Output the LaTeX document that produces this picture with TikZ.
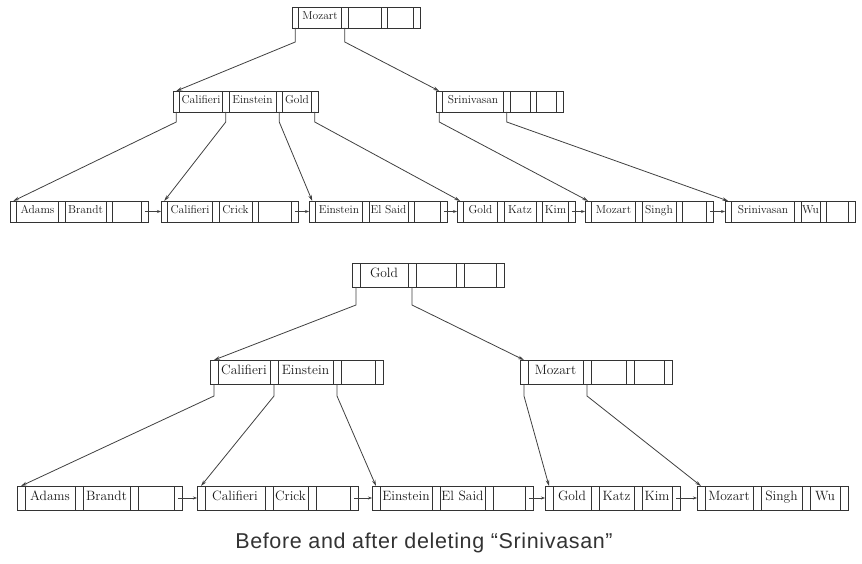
\documentclass[tikz,border=0pt]{standalone}
\usepackage{fontspec}
\setsansfont{Liberation Sans}
\newfontfamily\capfont[LetterSpace=3]{Liberation Sans}
\usetikzlibrary{positioning}
\usetikzlibrary{arrows.meta}

% one B+-tree node: pointer cell, then key cell and pointer cell per key/width
\newcommand{\bpnode}[4][]{%
  \node[ptr,#1,anchor=north west] (#2-p0) at (#3) {};
  \foreach \k/\w [count=\i] in {#4}{%
    \pgfmathtruncatemacro{\j}{\i-1}
    \node[key,#1,minimum width=\w pt,right=0pt of #2-p\j] (#2-k\i) {\k};
    \node[ptr,#1,right=0pt of #2-k\i] (#2-p\i) {};
  }%
}

\begin{document}
\begin{tikzpicture}[x=1pt,y=-1pt,
  cell/.style={draw=black!80,line width=0.8pt,outer sep=0pt,inner xsep=0.5pt,inner ysep=0pt},
  ptr/.style={cell},
  key/.style={cell,text=black!90,text height=0.7em,text depth=0.22em},
  upper/.style={minimum height=21pt,minimum width=6.5pt,font=\fontsize{11.5}{12}\selectfont},
  lower/.style={minimum height=24pt,minimum width=8pt,font=\fontsize{13.5}{14}\selectfont},
  down/.style={draw=black!75,line width=0.8pt,-{Stealth[length=6pt,width=3.5pt]}},
  next/.style={draw=black!75,line width=0.8pt,-{Stealth[length=4pt,width=3pt]}}]
  \useasboundingbox (0,0) rectangle (862,564);

  % before
  \bpnode[upper]{root}{292,7}{Mozart/43,/33,/26}
  \bpnode[upper]{cal}{173,91}{Califieri/43,Einstein/47,Gold/29}
  \bpnode[upper]{sri}{436,91}{Srinivasan/61,/20,/20}

  \bpnode[upper]{lAd}{10,201}{Adams/42,Brandt/41,/29}
  \bpnode[upper]{lCa}{161,201}{Califieri/45,Crick/33,/33}
  \bpnode[upper]{lEi}{309,201}{Einstein/47,El Said/39,/26}
  \bpnode[upper]{lGo}{457,201}{Gold/34,Katz/32,Kim/26}
  \bpnode[upper]{lMo}{585,201}{Mozart/44,Singh/34,/24}
  \bpnode[upper]{lSr}{725,201}{Srinivasan/63,Wu/19,/22}

  \draw[down] (root-p0.south) -- ++(0,14) -- (cal-p0.north);
  \draw[down] (root-p1.south) -- ++(0,14) -- (sri-p0.north);
  \draw[down] (cal-p0.south) -- ++(0,10) -- (lAd-p0.north);
  \draw[down] (cal-p1.south) -- ++(0,10) -- (lCa-p0.north);
  \draw[down] (cal-p2.south) -- ++(0,10) -- (lEi-p0.north);
  \draw[down] (cal-p3.south) -- ++(0,10) -- (lGo-p0.north);
  \draw[down] (sri-p0.south) -- ++(0,10) -- (lMo-p0.north);
  \draw[down] (sri-p1.south) -- ++(0,10) -- (lSr-p0.north);

  \draw[next] (lAd-p3.center) -- (lCa-p0.west);
  \draw[next] (lCa-p3.center) -- (lEi-p0.west);
  \draw[next] (lEi-p3.center) -- (lGo-p0.west);
  \draw[next] (lGo-p3.center) -- (lMo-p0.west);
  \draw[next] (lMo-p3.center) -- (lSr-p0.west);

  % after
  \bpnode[lower]{root2}{352,263}{Gold/48,/40,/32}
  \bpnode[lower]{cal2}{210,360}{Califieri/52,Einstein/55,/34}
  \bpnode[lower]{moz2}{520,360}{Mozart/55,/35,/30}

  \bpnode[lower]{lAd2}{17,486}{Adams/50,Brandt/47,/36}
  \bpnode[lower]{lCa2}{197,486}{Califieri/60,Crick/35,/34}
  \bpnode[lower]{lEi2}{372,486}{Einstein/52,El Said/45,/32}
  \bpnode[lower]{lGo2}{545,486}{Gold/38,Katz/35,Kim/30}
  \bpnode[lower]{lMo2}{697,486}{Mozart/48,Singh/41,Wu/30}

  \draw[down] (root2-p0.south) -- ++(0,18) -- (cal2-p0.north);
  \draw[down] (root2-p1.south) -- ++(0,18) -- (moz2-p0.north);
  \draw[down] (cal2-p0.south) -- ++(0,12) -- (lAd2-p0.north);
  \draw[down] (cal2-p1.south) -- ++(0,12) -- (lCa2-p0.north);
  \draw[down] (cal2-p2.south) -- ++(0,12) -- (lEi2-p0.north);
  \draw[down] (moz2-p0.south) -- ++(0,12) -- (lGo2-p0.north);
  \draw[down] (moz2-p1.south) -- ++(0,12) -- (lMo2-p0.north);

  \draw[next] (lAd2-p3.center) -- (lCa2-p0.west);
  \draw[next] (lCa2-p3.center) -- (lEi2-p0.west);
  \draw[next] (lEi2-p3.center) -- (lGo2-p0.west);
  \draw[next] (lGo2-p3.center) -- (lMo2-p0.west);

  \node[font=\capfont\fontsize{21.5}{24}\selectfont,text=black!80] (caption) at (424,543) {Before and after deleting “Srinivasan”};
\end{tikzpicture}
\end{document}
